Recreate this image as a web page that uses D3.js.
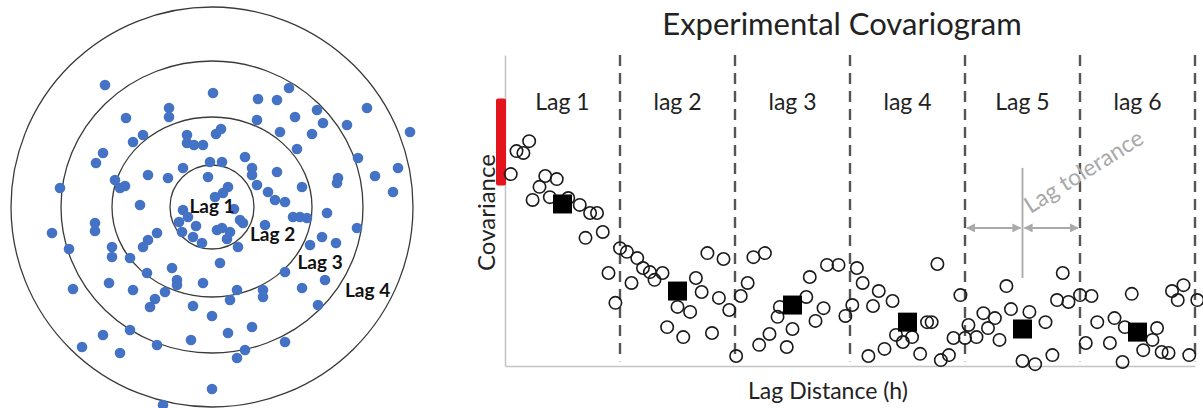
<!DOCTYPE html>
<html>
<head>
<meta charset="utf-8">
<script src="https://cdnjs.cloudflare.com/ajax/libs/d3/7.8.5/d3.min.js"></script>
<style>
  body { margin: 0; background: #fff; }
  svg { display: block; font-family: Lato, "Open Sans", sans-serif; }
</style>
</head>
<body>
<div id="chart"></div>
<script>
// ---- left panel: sample locations (metres from the centre point) ----
var samples = [
  [-10.7,12.2],[0.1,11.4],[-4.3,9.9],[-4.3,9.0],[-8.6,8.9],[-6.9,7.2],[-7.9,6.5],[-2.5,7.2],
  [-2.5,6.4],[-1.8,6.2],[-0.9,6.2],[0.4,7.3],[0.9,7.8],[-10.9,5.4],[-11.6,4.4],[-6.4,3.2],
  [-4.4,2.9],[-2.9,3.9],[-0.4,3.0],[-0.2,4.5],[-9.7,2.7],[-9.2,1.9],[-8.7,2.1],[-15.2,1.9],
  [-7.2,0.2],[4.6,10.8],[6.5,10.7],[7.7,11.9],[15.5,9.9],[4.5,8.7],[8.3,9.0],[10.5,9.7],
  [11.1,8.4],[13.5,8.2],[19.8,7.5],[6.8,7.5],[10.0,7.3],[8.5,5.8],[3.3,5.0],[1.0,4.5],
  [4.0,3.9],[4.0,3.2],[4.5,2.2],[6.5,3.5],[14.6,4.9],[18.6,3.9],[16.3,3.1],[12.6,2.9],
  [12.5,2.4],[18.1,1.5],[9.0,2.0],[1.6,2.0],[1.1,1.4],[5.6,1.5],[6.3,0.7],[7.3,0.5],
  [11.5,-0.6],[8.1,-1.0],[8.8,-1.0],[9.5,-1.1],[0.3,1.0],[-16.0,-2.6],[-11.7,-1.6],[-11.7,-2.4],
  [-14.3,-4.2],[-10.0,-4.0],[-10.0,-5.0],[-8.2,-5.1],[-5.5,-2.6],[-6.4,-3.3],[-6.9,-4.0],[-4.0,-6.1],
  [-3.5,-7.3],[-3.5,-7.8],[-6.5,-6.6],[-10.3,-7.6],[-7.9,-8.3],[-13.9,-8.2],[-4.7,-8.5],[-5.7,-9.2],
  [-6.2,-10.0],[-0.9,-7.6],[-1.9,-9.9],[0.0,-10.9],[-3.0,-2.5],[-1.9,-3.0],[-1.0,-3.6],[0.5,-2.3],
  [0.8,-5.6],[-10.9,-12.8],[-13.0,-14.0],[-9.2,-14.6],[-8.2,-12.3],[-5.5,-13.8],[-2.1,-13.3],[0.0,-18.2],
  [-4.9,-19.8],[14.5,-2.1],[1.0,-2.1],[1.8,-2.5],[3.1,-1.6],[5.3,-1.8],[2.6,-4.0],[9.8,-3.8],
  [11.0,-3.0],[12.4,-3.6],[7.3,-6.5],[11.3,-7.3],[9.0,-8.1],[5.1,-8.3],[5.1,-9.0],[2.5,-8.3],
  [1.8,-9.3],[10.6,-9.8],[1.6,-12.6],[4.0,-12.0],[7.3,-13.5],[3.3,-14.3],[2.5,-15.1],[-2.9,-0.3],
  [-3.3,-1.5],[2.8,-1.3],[-2.4,-1.0],[-1.6,-1.9],[2.2,-0.2],[1.5,-3.2]
];
var ringRx = [4.2, 10.0, 15.1, 20.1];
var ringRy = [4.2, 9.0, 14.6, 20.0];
var ringLabels = ["Lag 1", "Lag 2", "Lag 3", "Lag 4"];

// ---- right panel: experimental covariogram ----
var lagNames = ["Lag 1", "lag 2", "lag 3", "lag 4", "Lag 5", "lag 6"];
var lagEdges = [1, 2, 3, 4, 5, 6];
// pairs: [lag distance h (lag units), covariance]
var pairs = [
  [0.05,0.617],[0.10,0.691],[0.16,0.685],[0.21,0.723],[0.35,0.611],[0.45,0.601],[0.30,0.576],[0.24,0.534],
  [0.39,0.543],[0.55,0.540],[0.65,0.518],[0.74,0.492],[0.80,0.492],[0.85,0.431],[0.70,0.412],[0.90,0.299],
  [0.96,0.203],[1.00,0.379],[1.06,0.367],[1.10,0.267],[1.15,0.347],[1.20,0.315],[1.26,0.302],[1.30,0.277],
  [1.37,0.299],[1.50,0.190],[1.61,0.174],[1.41,0.125],[1.55,0.093],[1.76,0.363],[1.90,0.344],[1.66,0.283],
  [1.71,0.238],[1.80,0.106],[1.86,0.219],[1.95,0.180],[2.05,0.225],[2.01,0.032],[2.11,0.267],[2.16,0.350],
  [2.26,0.363],[2.21,0.068],[2.30,0.103],[2.37,0.158],[2.39,0.190],[2.50,0.119],[2.45,0.061],[2.62,0.222],
  [2.65,0.286],[2.70,0.145],[2.77,0.186],[2.80,0.325],[2.90,0.325],[2.96,0.161],[3.02,0.196],[3.06,0.315],
  [3.11,0.267],[3.25,0.241],[3.20,0.193],[3.37,0.209],[3.16,0.032],[3.30,0.055],[3.40,0.100],[3.46,0.077],
  [3.54,0.093],[3.61,0.039],[3.67,0.141],[3.71,0.141],[3.76,0.328],[3.79,0.019],[3.86,0.035],[3.90,0.090],
  [3.96,0.228],[4.00,0.090],[4.03,0.132],[4.10,0.093],[4.16,0.170],[4.20,0.122],[4.26,0.154],[4.30,0.084],
  [4.36,0.257],[4.40,0.183],[4.56,0.174],[4.70,0.141],[4.50,0.016],[4.61,0.006],[4.76,0.035],[4.80,0.212],
  [4.85,0.299],[4.90,0.206],[5.00,0.228],[5.10,0.225],[5.05,0.074],[5.15,0.141],[5.26,0.074],[5.30,0.154],
  [5.37,0.013],[5.39,0.125],[5.45,0.232],[5.55,0.051],[5.63,0.084],[5.67,0.122],[5.71,0.045],[5.77,0.042],
  [5.80,0.241],[5.90,0.260],[5.85,0.212],[5.95,0.035],[6.02,0.212]
];
var lagCentres = [0.5, 1.5, 2.5, 3.5, 4.5, 5.5];
var lagMeans = [0.521, 0.241, 0.196, 0.141, 0.119, 0.109];
var nuggetRange = [0.58, 0.86];

var W = 1203, H = 408;
var svg = d3.select("#chart").append("svg").attr("width", W).attr("height", H);

// ===== left panel =====
var sx = d3.scaleLinear().domain([-20.5, 20.5]).range([7, 417]);
var sy = d3.scaleLinear().domain([-20.5, 20.5]).range([412, 2]);
var sk = function(v) { return sx(v) - sx(0); };

var left = svg.append("g");
left.selectAll("ellipse.ring").data(ringRx).enter().append("ellipse")
  .attr("class", "ring")
  .attr("cx", sx(0)).attr("cy", sy(0))
  .attr("rx", function(d) { return sk(d); })
  .attr("ry", function(d, i) { return sk(ringRy[i]); })
  .attr("fill", "none").attr("stroke", "#3a3a3a").attr("stroke-width", 1.3);

left.selectAll("circle.dot").data(samples).enter().append("circle")
  .attr("class", "dot")
  .attr("cx", function(d) { return sx(d[0]); })
  .attr("cy", function(d) { return sy(d[1]); })
  .attr("r", 5.3)
  .attr("fill", "#4472c4");

left.selectAll("text.ringlab").data(ringLabels).enter().append("text")
  .attr("class", "ringlab")
  .attr("x", function(d, i) { return i == 0 ? sx(0) : sx(0) + 38 + (i - 1) * 47.5; })
  .attr("y", function(d, i) { return sy(0) + 6 + i * 28; })
  .attr("text-anchor", function(d, i) { return i == 0 ? "middle" : "start"; })
  .attr("font-size", 19).attr("font-weight", "bold").attr("fill", "#111")
  .text(function(d) { return d; });

// ===== right panel =====
var x = d3.scaleLinear().domain([0, 6]).range([505, 1195]);
var y = d3.scaleLinear().domain([0, 1]).range([366, 55]);

var right = svg.append("g");

// axes: plain light lines, no ticks
right.append("g").attr("transform", "translate(0," + y(0) + ")")
  .call(d3.axisBottom(x).ticks(0).tickSizeOuter(0))
  .select(".domain").attr("stroke", "#c4c4c4").attr("stroke-width", 1.5);
right.append("g").attr("transform", "translate(" + x(0) + ",0)")
  .call(d3.axisLeft(y).ticks(0).tickSizeOuter(0))
  .select(".domain").attr("stroke", "#c4c4c4").attr("stroke-width", 1.5);

// lag boundaries
right.selectAll("line.edge").data(lagEdges).enter().append("line")
  .attr("class", "edge")
  .attr("x1", function(d) { return x(d); }).attr("x2", function(d) { return x(d); })
  .attr("y1", y(1)).attr("y2", y(0.015))
  .attr("stroke", "#555").attr("stroke-width", 2.4)
  .attr("stroke-dasharray", "11,7");

right.selectAll("text.lagname").data(lagNames).enter().append("text")
  .attr("class", "lagname")
  .attr("x", function(d, i) { return x(lagCentres[i]); })
  .attr("y", 110)
  .attr("text-anchor", "middle")
  .attr("font-size", 23).attr("fill", "#222")
  .text(function(d) { return d; });

// nugget bar on the y axis
right.append("rect")
  .attr("x", x(0) - 9).attr("width", 10)
  .attr("y", y(nuggetRange[1]))
  .attr("height", y(nuggetRange[0]) - y(nuggetRange[1]))
  .attr("rx", 2)
  .attr("fill", "#e3141b");

// pairs
right.selectAll("circle.pair").data(pairs).enter().append("circle")
  .attr("class", "pair")
  .attr("cx", function(d) { return x(d[0]); })
  .attr("cy", function(d) { return y(d[1]); })
  .attr("r", 6.2)
  .attr("fill", "none").attr("stroke", "#1a1a1a").attr("stroke-width", 1.6);

// lag means
var sq = 19;
right.selectAll("rect.mean").data(lagMeans).enter().append("rect")
  .attr("class", "mean")
  .attr("x", function(d, i) { return x(lagCentres[i]) - sq / 2; })
  .attr("y", function(d) { return y(d) - sq / 2; })
  .attr("width", sq).attr("height", sq)
  .attr("fill", "#000");

// lag tolerance annotation
var tolCol = "#a9a9a9";
var defs = svg.append("defs");
defs.append("marker").attr("id", "ah")
  .attr("viewBox", "0 0 10 10").attr("refX", 9).attr("refY", 5)
  .attr("markerWidth", 4.5).attr("markerHeight", 4.5)
  .attr("orient", "auto-start-reverse")
  .append("path").attr("d", "M0,0L10,5L0,10Z").attr("fill", tolCol);

var tolY = y(0.444);
right.append("line")
  .attr("x1", x(4.5)).attr("x2", x(4.5))
  .attr("y1", y(0.637)).attr("y2", y(0.283))
  .attr("stroke", tolCol).attr("stroke-width", 1.8);
[[4, 4.5], [4.5, 5]].forEach(function(s) {
  right.append("line")
    .attr("x1", x(s[0]) + 2).attr("x2", x(s[1]) - 2)
    .attr("y1", tolY).attr("y2", tolY)
    .attr("stroke", tolCol).attr("stroke-width", 2)
    .attr("marker-start", "url(#ah)").attr("marker-end", "url(#ah)");
});
right.append("text")
  .attr("transform", "translate(" + (x(4.5) + 8) + "," + (y(0.637) + 46) + ") rotate(-32)")
  .attr("font-size", 23).attr("fill", tolCol)
  .text("Lag tolerance");

// titles
svg.append("text")
  .attr("x", (x(0) + x(6)) / 2 - 8).attr("y", 35)
  .attr("text-anchor", "middle").attr("font-size", 31).attr("fill", "#222")
  .text("Experimental Covariogram");
svg.append("text")
  .attr("x", (x(0) + x(6)) / 2 - 22).attr("y", 399)
  .attr("text-anchor", "middle").attr("font-size", 23).attr("fill", "#222")
  .text("Lag Distance (h)");
svg.append("text")
  .attr("transform", "translate(" + (x(0) - 10) + "," + (y(0.5) + 2) + ") rotate(-90)")
  .attr("text-anchor", "middle").attr("font-size", 24).attr("fill", "#222")
  .text("Covariance");
</script>
</body>
</html>
